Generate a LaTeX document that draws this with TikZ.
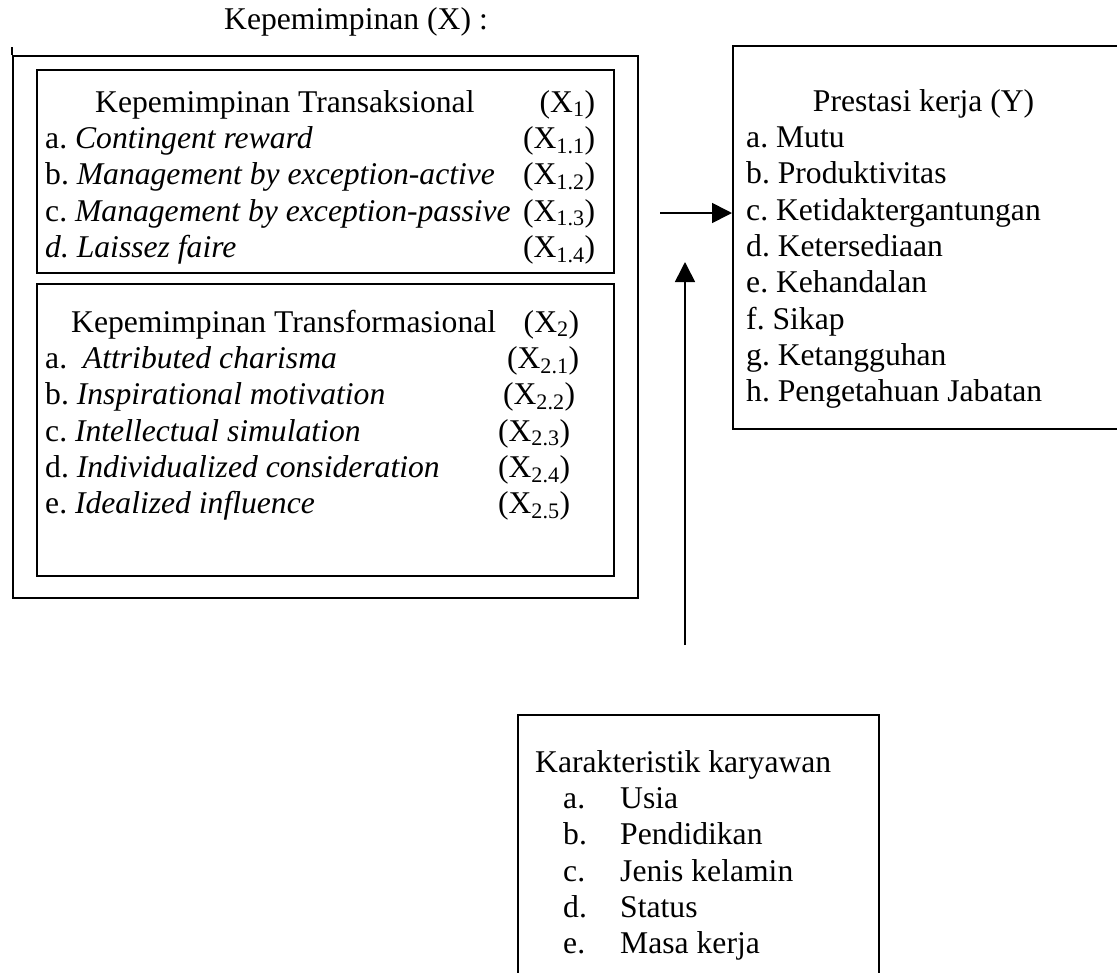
\documentclass[tikz,border=0pt]{standalone}
\usepackage{fontspec}
\setmainfont{Liberation Serif}
\usetikzlibrary{arrows.meta}

\newcommand{\baris}[3]{\makebox[#1][l]{#2\hfill#3}}

\begin{document}
\begin{tikzpicture}[x=0.03cm,y=-0.03cm,>={Triangle[length=0.6cm,width=0.6cm]},
  kotak/.style={draw,line width=1.9pt,inner sep=0pt,anchor=north west},
  isi/.style={anchor=north west,inner sep=0pt,align=left,font=\fontsize{27}{31}\selectfont\frenchspacing},
  panah/.style={->,line width=1.4pt}]
  \useasboundingbox (0,0) rectangle (1117,972);

  % Kotak
  \node[isi,anchor=center] (judul) at (356,22) {Kepemimpinan (X) :};
  \node[kotak,minimum width=18.75cm,minimum height=16.26cm] (X) at (12,55) {};
  \draw[line width=1.9pt] (X.north west) -- ++(0,-8);
  \node[kotak,minimum width=17.31cm,minimum height=6.09cm] (trans) at (36,69) {};
  \node[kotak,minimum width=17.31cm,minimum height=8.76cm] (transf) at (36,283) {};
  \node[kotak,minimum width=11.94cm,minimum height=11.49cm] (Y) at (732,45) {};
  \node[kotak,minimum width=10.83cm,minimum height=8.28cm] (karakter) at (517,714) {};

  % Isi
  \node[isi] (transisi) at (45,86.6) {%
    \strut\baris{16.5cm}{\hspace*{1.5cm}Kepemimpinan Transaksional}{(X\textsubscript{1})}\\
    \baris{16.5cm}{a. \textit{Contingent reward}}{(X\textsubscript{1.1})}\\
    \baris{16.5cm}{b. \textit{Management by exception-active}}{(X\textsubscript{1.2})}\\
    \baris{16.5cm}{c. \textit{Management by exception-passive}}{(X\textsubscript{1.3})}\\
    \baris{16.5cm}{\textit{d. Laissez faire}}{(X\textsubscript{1.4})}};
  \node[isi] (transfisi) at (45,306.6) {%
    \strut\baris{16.02cm}{\hspace*{0.78cm}Kepemimpinan Transformasional}{(X\textsubscript{2})}\\
    \baris{16.02cm}{a.\ \ \textit{Attributed charisma}}{(X\textsubscript{2.1})}\\
    \baris{15.9cm}{b. \textit{Inspirational motivation}}{(X\textsubscript{2.2})}\\
    \baris{15.75cm}{c. \textit{Intellectual simulation}}{(X\textsubscript{2.3})}\\
    \baris{15.75cm}{d. \textit{Individualized consideration}}{(X\textsubscript{2.4})}\\
    \baris{15.75cm}{e. \textit{Idealized influence}}{(X\textsubscript{2.5})}};
  \node[isi] (Yisi) at (746,85.6) {%
    \strut\hspace*{2.0cm}Prestasi kerja (Y)\\
    a. Mutu\\
    b. Produktivitas\\
    c. Ketidaktergantungan\\
    d. Ketersediaan\\
    e. Kehandalan\\
    f. Sikap\\
    g. Ketangguhan\\
    h. Pengetahuan Jabatan};
  \node[isi] (karakterisi) at (535,746.6) {%
    \strut Karakteristik karyawan\\
    \hspace*{0.84cm}\makebox[1.71cm][l]{a.}Usia\\
    \hspace*{0.84cm}\makebox[1.71cm][l]{b.}Pendidikan\\
    \hspace*{0.84cm}\makebox[1.71cm][l]{c.}Jenis kelamin\\
    \hspace*{0.84cm}\makebox[1.71cm][l]{d.}Status\\
    \hspace*{0.84cm}\makebox[1.71cm][l]{e.}Masa kerja};

  % Panah
  \coordinate (kiri) at (660,213);
  \coordinate (bawah) at (685,645);
  \coordinate (atas) at (685,262);
  \draw[panah] (kiri) -- (kiri -| Y.west);
  \draw[panah] (bawah) -- (atas);
\end{tikzpicture}
\end{document}
